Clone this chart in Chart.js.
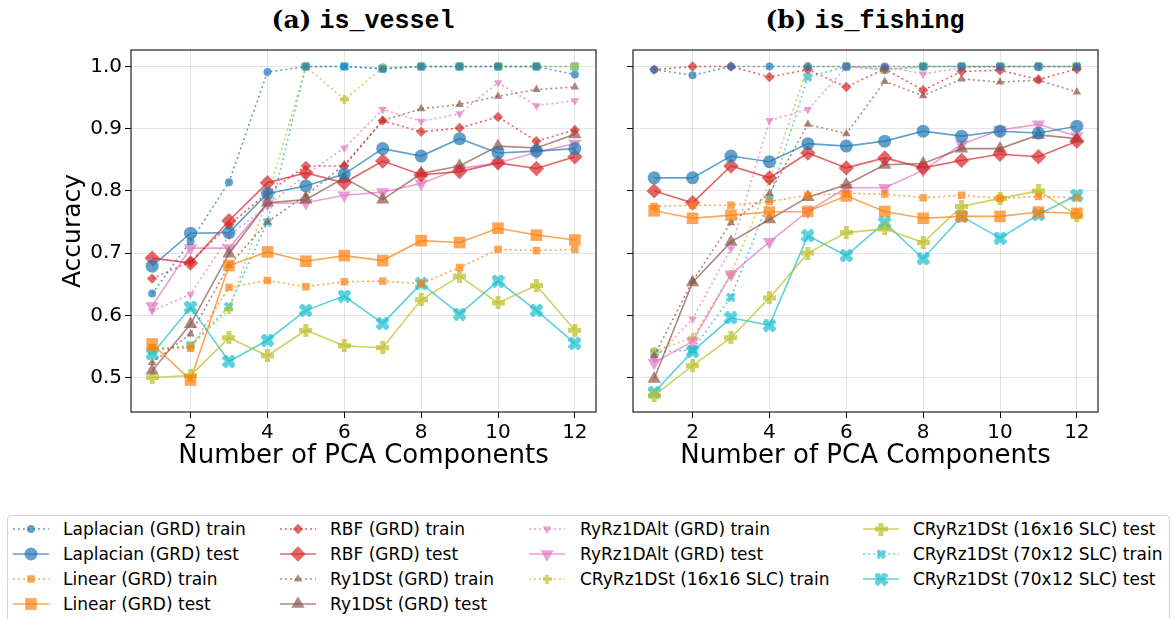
<!DOCTYPE html>
<html>
<head>
<meta charset="utf-8">
<script src="https://cdn.jsdelivr.net/npm/chart.js@4.4.1/dist/chart.umd.min.js"></script>
<style>
body { margin: 0; background: #fff; width: 1176px; height: 619px; overflow: hidden; position: relative; font-family: "DejaVu Sans", sans-serif; }
canvas.panel { position: absolute; top: 0; }
.title { position: absolute; top: 5px; line-height: 30px; font-size: 25px; white-space: nowrap; transform: translateX(-50%); color: #000; }
.title b { font-family: "DejaVu Serif", serif; }
.title span { font-family: "Liberation Mono", monospace; font-weight: bold; }
#legend { position: absolute; left: 7px; top: 515px; width: 1163px; height: 120px; border: 1px solid #d4d4d4; border-radius: 4px; box-sizing: border-box; }
.item { position: absolute; height: 22px; line-height: 22px; font-size: 17px; white-space: nowrap; color: #000; }
</style>
</head>
<body>
<div class="title" style="left:363px"><b>(a)</b> <span>is_vessel</span></div>
<div class="title" style="left:865px"><b>(b)</b> <span>is_fishing</span></div>
<canvas id="vesselChart" class="panel" width="610" height="480" style="left:0"></canvas>
<canvas id="fishingChart" class="panel" width="566" height="480" style="left:610px"></canvas>
<div id="legend"></div>
<script>
// Datos
const components = [1, 2, 3, 4, 5, 6, 7, 8, 9, 10, 11, 12];
const xTicks = [2, 4, 6, 8, 10, 12];
const yTicks = [0.5, 0.6, 0.7, 0.8, 0.9, 1.0];

// (a) is_vessel
const vesselLaplacianTrain = [0.635, 0.719, 0.814, 0.991, 1.0, 1.0, 0.996, 1.0, 1.0, 1.0, 1.0, 0.987];
const vesselLaplacianTest = [0.679, 0.732, 0.733, 0.796, 0.808, 0.827, 0.868, 0.856, 0.884, 0.861, 0.864, 0.868];
const vesselLinearTrain = [0.548, 0.547, 0.645, 0.656, 0.646, 0.654, 0.655, 0.651, 0.677, 0.706, 0.704, 0.706];
const vesselLinearTest = [0.554, 0.496, 0.680, 0.702, 0.687, 0.696, 0.688, 0.720, 0.717, 0.740, 0.729, 0.721];
const vesselRbfTrain = [0.659, 0.686, 0.745, 0.797, 0.840, 0.840, 0.913, 0.895, 0.901, 0.919, 0.880, 0.898];
const vesselRbfTest = [0.692, 0.684, 0.752, 0.813, 0.829, 0.813, 0.848, 0.826, 0.831, 0.845, 0.836, 0.855];
const vesselRy1DStTrain = [0.524, 0.570, 0.680, 0.750, 0.793, 0.842, 0.913, 0.932, 0.939, 0.952, 0.963, 0.967];
const vesselRy1DStTest = [0.511, 0.586, 0.699, 0.781, 0.786, 0.821, 0.786, 0.828, 0.840, 0.872, 0.869, 0.891];
const vesselRyRzTrain = [0.607, 0.634, 0.728, 0.776, 0.826, 0.869, 0.931, 0.912, 0.924, 0.974, 0.937, 0.945];
const vesselRyRzTest = [0.615, 0.708, 0.708, 0.780, 0.781, 0.793, 0.798, 0.812, 0.836, 0.845, 0.862, 0.876];
const vesselC16Train = [0.546, 0.550, 0.609, 0.789, 1.0, 0.947, 0.998, 1.0, 1.0, 1.0, 1.0, 1.0];
const vesselC16Test = [0.500, 0.503, 0.564, 0.535, 0.576, 0.551, 0.548, 0.625, 0.663, 0.620, 0.648, 0.576];
const vesselC70Train = [0.543, 0.552, 0.614, 0.750, 1.0, 1.0, 0.997, 1.0, 1.0, 1.0, 1.0, 1.0];
const vesselC70Test = [0.538, 0.613, 0.526, 0.560, 0.608, 0.631, 0.587, 0.651, 0.602, 0.655, 0.608, 0.555];

// (b) is_fishing
const fishingLaplacianTrain = [0.995, 0.986, 1.0, 1.0, 1.0, 1.0, 1.0, 1.0, 1.0, 1.0, 1.0, 1.0];
const fishingLaplacianTest = [0.821, 0.821, 0.856, 0.847, 0.876, 0.872, 0.880, 0.896, 0.888, 0.896, 0.893, 0.904];
const fishingLinearTrain = [0.775, 0.777, 0.777, 0.783, 0.793, 0.796, 0.795, 0.789, 0.793, 0.788, 0.791, 0.789];
const fishingLinearTest = [0.768, 0.756, 0.761, 0.766, 0.767, 0.792, 0.767, 0.756, 0.759, 0.759, 0.766, 0.764];
const fishingRbfTrain = [0.995, 1.0, 1.0, 0.983, 0.995, 0.967, 0.996, 0.962, 0.992, 0.994, 0.979, 0.996];
const fishingRbfTest = [0.800, 0.781, 0.840, 0.821, 0.861, 0.837, 0.853, 0.837, 0.849, 0.859, 0.855, 0.880];
const fishingRy1DStTrain = [0.535, 0.655, 0.749, 0.796, 0.907, 0.892, 0.976, 0.953, 0.980, 0.975, 0.978, 0.959];
const fishingRy1DStTest = [0.498, 0.653, 0.718, 0.754, 0.790, 0.810, 0.842, 0.844, 0.868, 0.868, 0.890, 0.884];
const fishingRyRzTrain = [0.530, 0.594, 0.707, 0.913, 0.931, 0.999, 1.0, 0.988, 0.998, 1.0, 1.0, 1.0];
const fishingRyRzTest = [0.524, 0.558, 0.666, 0.718, 0.767, 0.805, 0.805, 0.833, 0.875, 0.898, 0.907, 0.888];
const fishingC16Train = [0.542, 0.564, 0.666, 0.816, 1.0, 1.0, 0.995, 1.0, 1.0, 1.0, 1.0, 1.0];
const fishingC16Test = [0.471, 0.519, 0.564, 0.628, 0.700, 0.733, 0.739, 0.717, 0.775, 0.788, 0.800, 0.761];
const fishingC70Train = [0.540, 0.545, 0.629, 0.787, 0.983, 1.0, 0.995, 1.0, 1.0, 1.0, 1.0, 1.0];
const fishingC70Test = [0.476, 0.542, 0.596, 0.584, 0.728, 0.696, 0.749, 0.691, 0.759, 0.724, 0.762, 0.793];

const FONT = '"DejaVu Sans", sans-serif';
const ALPHA = 0.7;

// Marcadores rellenos "P" y "X" como imágenes
function makeShape(kind, size, rgb) {
    const c = document.createElement('canvas');
    c.width = size; c.height = size;
    const ctx = c.getContext('2d');
    const h = size / 2, t = size * 0.19;
    const pts = [[-t, -h], [t, -h], [t, -t], [h, -t], [h, t], [t, t], [t, h], [-t, h], [-t, t], [-h, t], [-h, -t], [-t, -t]];
    const a = kind === 'x' ? Math.PI / 4 : 0;
    const k = kind === 'x' ? 1.15 : 1;
    ctx.fillStyle = `rgba(${rgb},${ALPHA})`;
    ctx.beginPath();
    pts.forEach(([px, py], i) => {
        const x = h + k * (px * Math.cos(a) - py * Math.sin(a));
        const y = h + k * (px * Math.sin(a) + py * Math.cos(a));
        if (i === 0) ctx.moveTo(x, y); else ctx.lineTo(x, y);
    });
    ctx.closePath();
    ctx.fill();
    return c;
}

const models = [
    { name: 'Laplacian (GRD)', rgb: '31,119,180', style: 'circle', rTrain: 4, rTest: 6.5 },
    { name: 'Linear (GRD)', rgb: '255,127,14', style: 'rect', rTrain: 5.3, rTest: 8.2 },
    { name: 'RBF (GRD)', rgb: '214,39,40', style: 'rectRot', rTrain: 5.2, rTest: 7.7 },
    { name: 'Ry1DSt (GRD)', rgb: '140,86,75', style: 'triangle', rTrain: 5, rTest: 7.7 },
    { name: 'RyRz1DAlt (GRD)', rgb: '227,119,194', style: 'triangle', rot: 180, rTrain: 5, rTest: 7.7 },
    { name: 'CRyRz1DSt (16x16 SLC)', rgb: '188,189,34', style: 'plus', sTrain: 9, sTest: 13 },
    { name: 'CRyRz1DSt (70x12 SLC)', rgb: '23,190,207', style: 'x', sTrain: 9, sTest: 13 }
];

const vesselSeries = [
    [vesselLaplacianTrain, vesselLaplacianTest], [vesselLinearTrain, vesselLinearTest],
    [vesselRbfTrain, vesselRbfTest], [vesselRy1DStTrain, vesselRy1DStTest],
    [vesselRyRzTrain, vesselRyRzTest], [vesselC16Train, vesselC16Test], [vesselC70Train, vesselC70Test]
];
const fishingSeries = [
    [fishingLaplacianTrain, fishingLaplacianTest], [fishingLinearTrain, fishingLinearTest],
    [fishingRbfTrain, fishingRbfTest], [fishingRy1DStTrain, fishingRy1DStTest],
    [fishingRyRzTrain, fishingRyRzTest], [fishingC16Train, fishingC16Test], [fishingC70Train, fishingC70Test]
];

// estilo de punto para train/test
function pointOf(m, isTest) {
    if (m.style === 'plus' || m.style === 'x') {
        return { style: makeShape(m.style, isTest ? m.sTest : m.sTrain, m.rgb), radius: 6 };
    }
    return { style: m.style, radius: isTest ? m.rTest : m.rTrain };
}

function buildDatasets(series) {
    const out = [];
    models.forEach((m, i) => {
        [false, true].forEach(isTest => {
            const p = pointOf(m, isTest);
            const values = series[i][isTest ? 1 : 0];
            out.push({
                label: m.name + (isTest ? ' test' : ' train'),
                data: components.map((c, j) => ({ x: c, y: values[j] })),
                borderColor: `rgba(${m.rgb},${ALPHA})`,
                backgroundColor: `rgba(${m.rgb},${ALPHA})`,
                borderWidth: 1.6,
                borderDash: isTest ? [] : [2, 3],
                pointStyle: p.style,
                pointRadius: p.radius,
                pointHoverRadius: p.radius,
                pointRotation: m.rot || 0,
                pointBorderWidth: 0,
                pointBackgroundColor: `rgba(${m.rgb},${ALPHA})`,
                tension: 0,
                clip: false
            });
        });
    });
    return out;
}

const framePlugin = {
    id: 'frame',
    afterDatasetsDraw(chart) {
        const a = chart.chartArea, ctx = chart.ctx;
        ctx.save();
        ctx.strokeStyle = '#222';
        ctx.lineWidth = 1.2;
        ctx.strokeRect(a.left, a.top, a.right - a.left, a.bottom - a.top);
        ctx.restore();
    }
};

function makeChart(id, series, first) {
    const ctx = document.getElementById(id).getContext('2d');
    return new Chart(ctx, {
        type: 'line',
        data: { datasets: buildDatasets(series) },
        plugins: [framePlugin],
        options: {
            responsive: false,
            animation: false,
            devicePixelRatio: 1,
            layout: { padding: { top: 50, right: first ? 14 : 78, left: 0, bottom: 0 } },
            plugins: { legend: { display: false }, tooltip: { enabled: false } },
            scales: {
                x: {
                    type: 'linear', min: 0.45, max: 12.55,
                    afterBuildTicks: s => { s.ticks = xTicks.map(v => ({ value: v })); },
                    afterFit: s => { s.height = 68; },
                    ticks: { font: { family: FONT, size: 20 }, color: '#000', padding: 3, maxRotation: 0, autoSkip: false },
                    grid: { color: 'rgba(0,0,0,0.1)', tickColor: '#000', tickLength: 6, lineWidth: 1 },
                    border: { display: false },
                    title: { display: true, text: 'Number of PCA Components', color: '#000', font: { family: FONT, size: 26 }, padding: { top: 0, bottom: 8 } }
                },
                y: {
                    type: 'linear', min: 0.4446, max: 1.0265,
                    afterBuildTicks: s => { s.ticks = yTicks.map(v => ({ value: v })); },
                    afterFit: s => { s.width = first ? 131 : 23; },
                    ticks: { display: first, font: { family: FONT, size: 20 }, color: '#000', padding: 3, callback: v => v.toFixed(1) },
                    grid: { color: 'rgba(0,0,0,0.1)', tickColor: '#000', tickLength: 6, lineWidth: 1 },
                    border: { display: false },
                    title: { display: first, text: 'Accuracy', color: '#000', font: { family: FONT, size: 25 }, padding: { top: 58, bottom: 0 } }
                }
            }
        }
    });
}

makeChart('vesselChart', vesselSeries, true);
makeChart('fishingChart', fishingSeries, false);

// Leyenda compartida (4 columnas)
const legendEntries = [];
models.forEach(m => { legendEntries.push([m, false]); legendEntries.push([m, true]); });
const handleCenter = [31, 298, 547, 881];
const textLeft = [63, 330, 580, 913];
const rowY = [529, 554, 579, 604];

legendEntries.forEach(([m, isTest], i) => {
    const col = i < 8 ? Math.floor(i / 4) : 2 + Math.floor((i - 8) / 3);
    const row = i < 8 ? i % 4 : (i - 8) % 3;
    const item = document.createElement('div');
    item.className = 'item';
    item.style.left = textLeft[col] + 'px';
    item.style.top = (rowY[row] - 11) + 'px';
    item.textContent = m.name + (isTest ? ' test' : ' train');
    document.body.appendChild(item);

    const cv = document.createElement('canvas');
    cv.width = 44; cv.height = 22;
    cv.style.position = 'absolute';
    cv.style.left = (handleCenter[col] - 22) + 'px';
    cv.style.top = (rowY[row] - 11) + 'px';
    document.body.appendChild(cv);
    const c = cv.getContext('2d');
    c.strokeStyle = `rgba(${m.rgb},${ALPHA})`;
    c.lineWidth = 1.6;
    c.setLineDash(isTest ? [] : [2, 3]);
    c.beginPath(); c.moveTo(4, 11); c.lineTo(40, 11); c.stroke();
    c.setLineDash([]);
    const p = pointOf(m, isTest);
    c.fillStyle = `rgba(${m.rgb},${ALPHA})`;
    if (Chart.helpers && Chart.helpers.drawPoint) {
        Chart.helpers.drawPoint(c, { pointStyle: p.style, radius: p.radius, rotation: m.rot || 0, borderWidth: 0 }, 22, 11);
    } else if (typeof p.style === 'object') {
        c.drawImage(p.style, 22 - p.style.width / 2, 11 - p.style.height / 2);
    } else {
        c.beginPath(); c.arc(22, 11, p.radius, 0, Math.PI * 2); c.fill();
    }
});
</script>
</body>
</html>
